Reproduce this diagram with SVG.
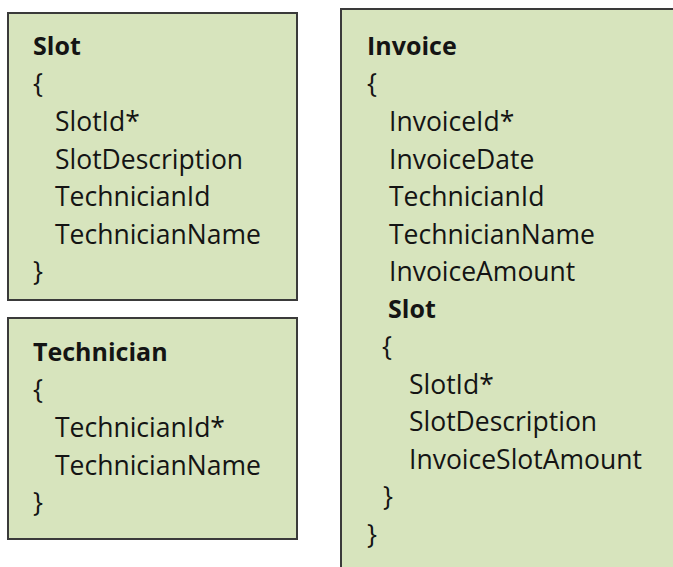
<svg xmlns="http://www.w3.org/2000/svg" width="673" height="567" viewBox="0 0 673 567">
<style>
.box{fill:#d7e4bd;stroke:#3a3a3a;stroke-width:2}
text{font-family:"Open Sans","Noto Sans",sans-serif;fill:#141414;font-size:26.5px}
.t{font-weight:bold;font-size:25px}
</style>
<rect x="0" y="0" width="673" height="567" fill="#ffffff"/>
<g id="slot">
<rect class="box" x="8" y="13" width="289" height="287"/>
<text class="t" x="33" y="55">Slot</text>
<text x="33" y="93">{</text>
<text x="55" y="131">SlotId*</text>
<text x="55" y="168.5">SlotDescription</text>
<text x="55" y="206">TechnicianId</text>
<text x="55" y="243.5">TechnicianName</text>
<text x="33" y="281">}</text>
</g>
<g id="technician">
<rect class="box" x="8" y="318" width="289" height="221"/>
<text class="t" x="33" y="361">Technician</text>
<text x="33" y="399">{</text>
<text x="55" y="437">TechnicianId*</text>
<text x="55" y="474.5">TechnicianName</text>
<text x="33" y="512">}</text>
</g>
<g id="invoice">
<rect class="box" x="341" y="9" width="340" height="570"/>
<text class="t" x="367" y="55">Invoice</text>
<text x="367" y="93">{</text>
<text x="389" y="131">InvoiceId*</text>
<text x="389" y="168.5">InvoiceDate</text>
<text x="389" y="206">TechnicianId</text>
<text x="389" y="243.5">TechnicianName</text>
<text x="389" y="281">InvoiceAmount</text>
<text class="t" x="388" y="318">Slot</text>
<text x="382" y="356">{</text>
<text x="409" y="393.5">SlotId*</text>
<text x="409" y="431">SlotDescription</text>
<text x="409" y="468.5">InvoiceSlotAmount</text>
<text x="383" y="506">}</text>
<text x="367" y="543.5">}</text>
</g>
<g id="connectors"></g>
</svg>
